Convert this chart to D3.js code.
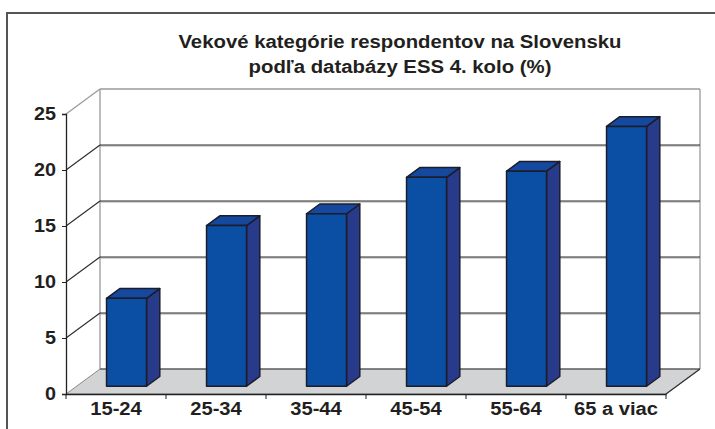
<!DOCTYPE html>
<html><head><meta charset="utf-8">
<script src="https://cdn.jsdelivr.net/npm/d3@7"></script>
<style>html,body{margin:0;padding:0;background:#fff;overflow:hidden}</style>
</head><body>
<svg id="c" width="715" height="429"></svg>
<script>
const categories = ["15-24","25-34","35-44","45-54","55-64","65 a viac"];
const values = [7.85, 14.35, 15.4, 18.65, 19.2, 23.2];
const yTicks = [0,5,10,15,20,25];
const titleLines = ["Vekové kategórie respondentov na Slovensku","podľa databázy ESS 4. kolo (%)"];

const svg = d3.select("#c");
const FONT = "Liberation Sans, Arial, sans-serif";
const left = 66, right = 666, y0 = 394, yTop = 114;
const DX = 34, DY = 25;
const fFront = 0.31, fBack = 0.70;

const x = d3.scaleBand().domain(categories).range([left, right]).paddingInner(0.6).paddingOuter(0.3);
const y = d3.scaleLinear().domain([0, 25]).range([y0, yTop]);

function stretch(sel, k){
  sel.each(function(){
    const L = this.getComputedTextLength();
    d3.select(this).attr("textLength", L*k).attr("lengthAdjust","spacingAndGlyphs");
  });
}

// frame
svg.append("rect").attr("x",7).attr("y",13).attr("width",720).attr("height",430)
  .attr("fill","none").attr("stroke","#555").attr("stroke-width",2);

// title
const tt = svg.append("g").selectAll("text").data(titleLines).join("text")
  .attr("x",400).attr("y",(d,i)=>48+i*25).attr("text-anchor","middle")
  .attr("font-family",FONT).attr("font-weight","bold").attr("font-size",18).attr("fill","#231f20")
  .text(d=>d);
stretch(tt, 1.13);

const P = (px,py)=>px+","+py;
// left side wall
svg.append("polygon").attr("points",[P(left,y(0)),P(left,y(25)),P(left+DX,y(25)-DY),P(left+DX,y(0)-DY)].join(" "))
  .attr("fill","#fff");
// floor
svg.append("polygon").attr("points",[P(left,y(0)),P(left+DX,y(0)-DY),P(right+DX,y(0)-DY),P(right,y(0))].join(" "))
  .attr("fill","#d2d3d5").attr("stroke","#8a8a8a").attr("stroke-width",1);

// back wall edges
svg.append("line").attr("x1",left+DX).attr("x2",left+DX).attr("y1",y(25)-DY).attr("y2",y(0)-DY).attr("stroke","#9a9a9a").attr("stroke-width",1.3);
svg.append("line").attr("x1",right+DX).attr("x2",right+DX).attr("y1",y(25)-DY).attr("y2",y(0)-DY).attr("stroke","#9a9a9a").attr("stroke-width",1.3);
svg.append("line").attr("x1",left+DX).attr("x2",right+DX).attr("y1",y(25)-DY).attr("y2",y(25)-DY).attr("stroke","#9a9a9a").attr("stroke-width",1.3);
svg.append("line").attr("x1",left).attr("x2",left+DX).attr("y1",y(25)).attr("y2",y(25)-DY).attr("stroke","#9a9a9a").attr("stroke-width",1.3);

// gridlines
const grid = yTicks.filter(v=>v>0 && v<25);
const g = svg.append("g");
grid.forEach(v=>{
  g.append("line").attr("x1",left+DX).attr("x2",right+DX).attr("y1",y(v)-DY+1).attr("y2",y(v)-DY+1).attr("stroke","#a8a8a8").attr("stroke-width",1);
  g.append("line").attr("x1",left+DX).attr("x2",right+DX).attr("y1",y(v)-DY).attr("y2",y(v)-DY).attr("stroke","#2b2b2b").attr("stroke-width",1.2);
  g.append("line").attr("x1",left).attr("x2",left+DX).attr("y1",y(v)).attr("y2",y(v)-DY).attr("stroke","#2b2b2b").attr("stroke-width",1.1);
});
// floor back edge and right edge
svg.append("line").attr("x1",left+DX).attr("x2",right+DX).attr("y1",y(0)-DY).attr("y2",y(0)-DY).attr("stroke","#444").attr("stroke-width",1.2);
svg.append("line").attr("x1",right).attr("x2",right+DX).attr("y1",y(0)).attr("y2",y(0)-DY).attr("stroke","#333").attr("stroke-width",1.2);

// bars
const bars = svg.append("g");
categories.forEach((c,i)=>{
  const v = values[i];
  const bx = x(c) + fFront*DX, by = fFront*DY;
  const w = x.bandwidth();
  const ddx = (fBack-fFront)*DX, ddy = (fBack-fFront)*DY;
  const yt = y(v)-by, yb = y(0)-by;
  const bg = bars.append("g").attr("stroke","#1c1c2a").attr("stroke-width",1.5).attr("stroke-linejoin","round");
  bg.append("polygon").attr("points",[P(bx+w,yb),P(bx+w,yt),P(bx+w+ddx,yt-ddy),P(bx+w+ddx,yb-ddy)].join(" ")).attr("fill","#283a8a");
  bg.append("polygon").attr("points",[P(bx,yt),P(bx+ddx,yt-ddy),P(bx+w+ddx,yt-ddy),P(bx+w,yt)].join(" ")).attr("fill","#15489f");
  bg.append("rect").attr("x",bx).attr("y",yt).attr("width",w).attr("height",yb-yt).attr("fill","#0a4fa3");
});

// y axis
const ya = svg.append("g").attr("transform",`translate(${left},0)`)
  .call(d3.axisLeft(y).tickValues(yTicks).tickSize(4).tickPadding(6).tickFormat(d3.format("d")));
ya.select(".domain").attr("stroke","#222").attr("stroke-width",1.3);
ya.selectAll(".tick line").attr("stroke","#222");
ya.selectAll("text").attr("font-family",FONT).attr("font-weight","bold").attr("font-size",18).attr("fill","#231f20");
stretch(ya.selectAll("text"), 1.1);

// x axis
const xa = svg.append("g").attr("transform",`translate(0,${y0})`)
  .call(d3.axisBottom(x).tickSize(0).tickPadding(8));
xa.select(".domain").attr("stroke","#222").attr("stroke-width",1.3);
xa.selectAll("text").attr("font-family",FONT).attr("font-weight","bold").attr("font-size",18).attr("fill","#231f20");
stretch(xa.selectAll("text"), 1.12);
const bounds = d3.range(categories.length+1).map(i=>left + i*x.step());
svg.append("g").selectAll("line").data(bounds).join("line")
  .attr("x1",d=>d).attr("x2",d=>d).attr("y1",y0).attr("y2",y0+5).attr("stroke","#222").attr("stroke-width",1);
</script>
</body></html>
